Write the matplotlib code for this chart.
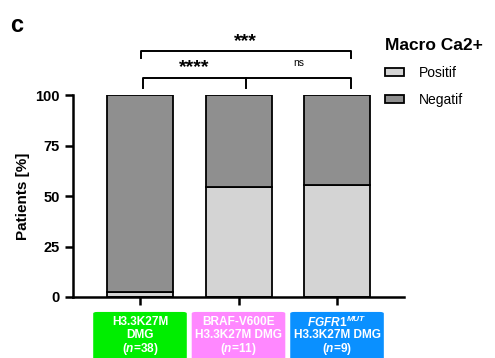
import matplotlib
matplotlib.use('Agg')

import matplotlib.pyplot as plt
from matplotlib.patches import Patch, FancyBboxPatch
from matplotlib.transforms import blended_transform_factory

plt.rcParams['font.family'] = ['Liberation Sans', 'DejaVu Sans']
plt.rcParams['mathtext.fontset'] = 'custom'
plt.rcParams['mathtext.it'] = 'Liberation Sans:italic:bold'
plt.rcParams['mathtext.rm'] = 'Liberation Sans:bold'
plt.rcParams['mathtext.bf'] = 'Liberation Sans:bold'

# Daten
positif = [2.6, 54.5, 55.6]
negatif = [100 - p for p in positif]
group_labels = [
    ["H3.3K27M", "DMG", "($\\mathit{n}$=38)"],
    ["BRAF-V600E", "H3.3K27M DMG", "($\\mathit{n}$=11)"],
    ["$\\mathit{FGFR1}^{\\mathit{MUT}}$", "H3.3K27M DMG", "($\\mathit{n}$=9)"],
]
group_colors = ['#00ee00', '#ff88ff', '#0a90ff']
legend_labels = ['Positif', 'Negatif']
bar_colors = ['#d4d4d4', '#8f8f8f']

fig = plt.figure(figsize=(4.95, 3.58), dpi=100)
ax = fig.add_axes([0.1475, 0.1704, 0.6687, 0.5642])

x = list(range(len(positif)))
ax.bar(x, positif, width=0.67, color=bar_colors[0], edgecolor='black', linewidth=1.3)
ax.bar(x, negatif, bottom=positif, width=0.67, color=bar_colors[1], edgecolor='black', linewidth=1.3)

ax.set_xlim(-0.68, 2.68)
ax.set_ylim(0, 100)
ax.set_yticks([0, 25, 50, 75, 100])
ax.set_xticks(x)
ax.set_xticklabels([])
for s in ['top', 'right']:
    ax.spines[s].set_visible(False)
for s in ['left', 'bottom']:
    ax.spines[s].set_linewidth(1.8)
ax.tick_params(axis='both', length=5.8, width=1.8, labelsize=10.5)
for lab in ax.get_yticklabels():
    lab.set_fontweight('bold')
ax.set_ylabel('Patients [%]', fontsize=11, fontweight='bold', labelpad=4)

# Signifikanz-Klammern
def bracket(x0, x1, y, h, mid=None):
    ax.plot([x0, x0, x1, x1], [y - h, y, y, y - h], color='black', lw=1.4, clip_on=False)
    if mid is not None:
        ax.plot([mid, mid], [y, y - h], color='black', lw=1.4, clip_on=False)

bracket(0.01, 2.14, 121.9, 3.6)
bracket(0.03, 2.14, 108.6, 5.1, mid=1.08)
ax.text(1.07, 126.5, '***', ha='center', va='center', fontsize=14, fontweight='bold')
ax.text(0.55, 113.5, '****', ha='center', va='center', fontsize=14, fontweight='bold')
ax.text(1.61, 116.0, 'ns', ha='center', va='center', fontsize=7.5)

# Gruppen-Boxen unter der Achse
tr = blended_transform_factory(ax.transData, ax.transAxes)
line_y = [-0.117, -0.182, -0.245]
for xi, lines, col in zip(x, group_labels, group_colors):
    box = FancyBboxPatch((xi - 0.475, -0.35), 0.95, 0.276, boxstyle='round,pad=0,rounding_size=0.04',
                         transform=tr, facecolor=col, edgecolor='none', clip_on=False,
                         mutation_aspect=0.2)
    ax.add_patch(box)
    for ly, txt in zip(line_y, lines):
        ax.text(xi, ly, txt, transform=tr, ha='center', va='center_baseline', color='white',
                fontsize=8.6, fontweight='bold', clip_on=False)

# Legende
handles = [Patch(facecolor=c, edgecolor='black', linewidth=1.3) for c in bar_colors]
leg = fig.legend(handles, legend_labels, title='Macro Ca2+', loc='upper left',
                 bbox_to_anchor=(0.753, 0.93), frameon=False, fontsize=10,
                 handlelength=1.35, handleheight=0.45, handletextpad=1.1,
                 labelspacing=0.95, alignment='left')
leg.get_title().set_fontsize(12.5)
leg.get_title().set_fontweight('bold')

fig.text(0.02, 0.96, 'c', fontsize=17, fontweight='bold', va='top', ha='left')

fig.savefig('out.png', dpi=100)
plt.close()
